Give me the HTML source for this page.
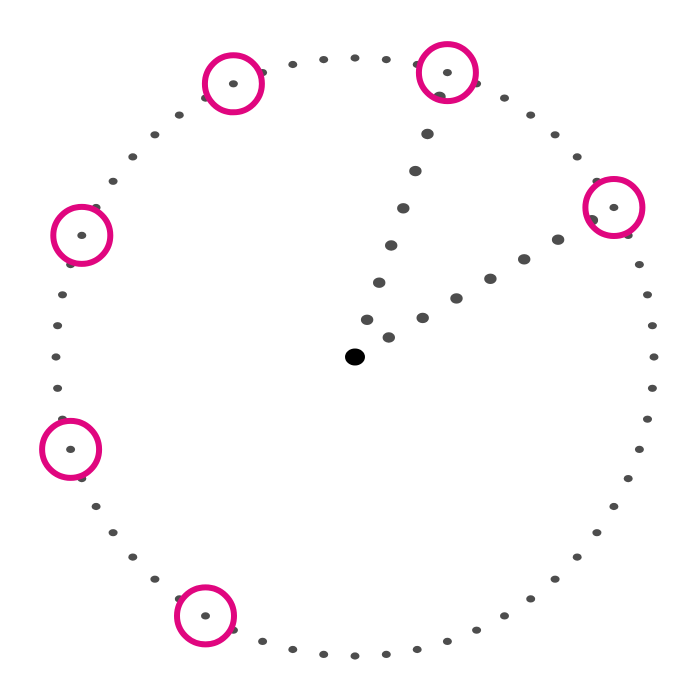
<!DOCTYPE html>
<html><head><meta charset="utf-8"><style>
html,body{margin:0;padding:0;background:#fff;}
svg{display:block}
</style></head><body>
<svg id="s" width="700" height="700" viewBox="0 0 700 700" xmlns="http://www.w3.org/2000/svg"></svg>
<script>
var s=document.getElementById('s'),cx=355,cy=357,R=299,h='';
function pt(a,r){var t=a*Math.PI/180;return [cx+r*Math.sin(t),cy-r*Math.cos(t)];}
for(var i=0;i<60;i++){var p=pt(i*6,R);h+='<ellipse cx="'+p[0].toFixed(1)+'" cy="'+p[1].toFixed(1)+'" rx="4.5" ry="3.6" fill="#4d4d4d"/>';}
[18,60].forEach(function(a){for(var k=1;k<=7;k++){var p=pt(a,R*k/7.65);h+='<ellipse cx="'+p[0].toFixed(1)+'" cy="'+p[1].toFixed(1)+'" rx="6.2" ry="5.2" fill="#4d4d4d"/>';}});
h+='<ellipse cx="355" cy="357" rx="10" ry="8.5" fill="#000"/>';
[18,60,-24,-66,-108,-150].forEach(function(a){var p=pt(a,R);h+='<circle cx="'+p[0].toFixed(1)+'" cy="'+p[1].toFixed(1)+'" r="28.5" fill="none" stroke="#e0067f" stroke-width="6"/>';});
s.innerHTML=h;
</script>
</body></html>
